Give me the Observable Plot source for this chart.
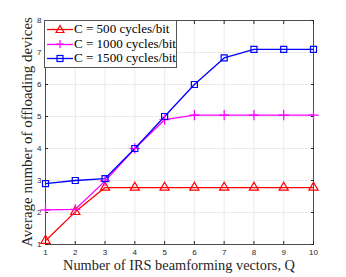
<!DOCTYPE html>
<html><head><meta charset="utf-8">
<script src="https://cdn.jsdelivr.net/npm/d3@7"></script>
<script src="https://cdn.jsdelivr.net/npm/@observablehq/plot@0.6"></script>
<style>
body{margin:0;background:#fff;}
#wrap{position:relative;width:346px;height:277px;}
#legend{position:absolute;left:44px;top:20px;width:133px;height:48px;box-sizing:border-box;background:#fff;border:1px solid #555;font-family:"Liberation Serif",serif;padding:1px 0 0 1px;}
#legend div{display:flex;align-items:center;white-space:nowrap;height:14.5px;}
#legend svg{margin-right:1px;flex:none;}
</style>
</head><body><div id="wrap"></div>
<script>
const Q = [1,2,3,4,5,6,7,8,9,10];
const c500 = [1.12,2.02,2.78,2.78,2.78,2.78,2.78,2.78,2.78,2.78];
const c1000 = [2.08,2.1,2.98,4.0,4.9,5.04,5.04,5.04,5.04,5.04];
const c1500 = [2.9,3.0,3.06,4.0,5.0,6.0,6.83,7.1,7.1,7.1];
const seriesNames = ["C = 500 cycles/bit","C = 1000 cycles/bit","C = 1500 cycles/bit"];
const colors = ["#ff0000","#ff00ff","#0000ff"];
const symbols = ["triangle","plus","square"];
const xTicks = Q;
const yTicks = [1,2,3,4,5,6,7,8];
const xTitle = "Number of IRS beamforming vectors, Q";
const yTitle = "Average number of offloading devices";

const rows = [];
[c500,c1000,c1500].forEach((arr,i)=>arr.forEach((v,j)=>rows.push({q:Q[j],v,s:seriesNames[i],k:i})));

// font size fitting helper
const cv=document.createElement("canvas").getContext("2d");
function fit(text,target,family){cv.font="10px "+family;return 10*target/cv.measureText(text).width;}
const serif='"Liberation Serif", serif';

const chart = Plot.plot({
  width:346, height:277,
  marginLeft:45, marginRight:33, marginTop:20, marginBottom:33,
  style:{fontFamily:"Liberation Sans, Arial, sans-serif", fontSize:"8px", color:"#262626", background:"#fff"},
  x:{domain:[1,10]},
  y:{domain:[1,8]},
  marks:[
    Plot.gridX(xTicks,{stroke:"#dcdcdc", strokeOpacity:1, strokeWidth:0.6}),
    Plot.gridY(yTicks,{stroke:"#dcdcdc", strokeOpacity:1, strokeWidth:0.6}),
    Plot.frame({stroke:"#262626", strokeWidth:0.8}),
    Plot.axisX(xTicks,{anchor:"bottom", tickSize:-3, tickPadding:8, label:null, fill:"#262626"}),
    Plot.axisX(xTicks,{anchor:"top", tickSize:-3, tickFormat:()=>"" , label:null}),
    Plot.axisY(yTicks,{anchor:"left", tickSize:-3, tickPadding:7, label:null, fill:"#262626"}),
    Plot.axisY(yTicks,{anchor:"right", tickSize:-3, tickFormat:()=>"", label:null}),
    Plot.line(rows,{x:"q", y:"v", z:"s", stroke:d=>colors[d.k], strokeWidth:1.3}),
    Plot.dot(rows,{x:"q", y:"v", symbol:d=>symbols[d.k], stroke:d=>colors[d.k], fill:"none", strokeWidth:1.2, r:3.4}),
  ],
  symbol:{type:"identity"},
  color:{type:"identity"}
});
chart.style.position="absolute";chart.style.left="0";chart.style.top="0";
const wrap=document.getElementById("wrap");
wrap.appendChild(chart);

const svg = d3.select(chart);
svg.append("text").attr("x",179).attr("y",270).attr("text-anchor","middle")
  .attr("font-family",serif).attr("font-size",fit(xTitle,232,serif)+"px").attr("fill","#262626")
  .text(xTitle);
svg.append("text").attr("transform","translate(32,132) rotate(-90)").attr("text-anchor","middle")
  .attr("font-family",serif).attr("font-size",fit(yTitle,230,serif)+"px").attr("fill","#262626")
  .text(yTitle);

// legend
const leg=document.createElement("div");leg.id="legend";
const legFs = fit(seriesNames[2],102,serif);
leg.style.fontSize=legFs+"px";
seriesNames.forEach((n,i)=>{
  const row=document.createElement("div");
  const sym = symbols[i];
  let m="";
  if(sym==="triangle") m='<path d="M14,3.5 L18,10.5 L10,10.5 Z" fill="none" stroke="'+colors[i]+'" stroke-width="1.2"/>';
  if(sym==="plus") m='<path d="M14,3 V11 M10,7 H18" stroke="'+colors[i]+'" stroke-width="1.2"/>';
  if(sym==="square") m='<rect x="11" y="4.5" width="6" height="6" fill="none" stroke="'+colors[i]+'" stroke-width="1.2"/>';
  row.innerHTML='<svg width="27" height="14"><line x1="1" x2="27" y1="7.5" y2="7.5" stroke="'+colors[i]+'" stroke-width="1.3"/>'+m+'</svg><span>'+n+'</span>';
  leg.appendChild(row);
});
wrap.appendChild(leg);
</script>
</body></html>
